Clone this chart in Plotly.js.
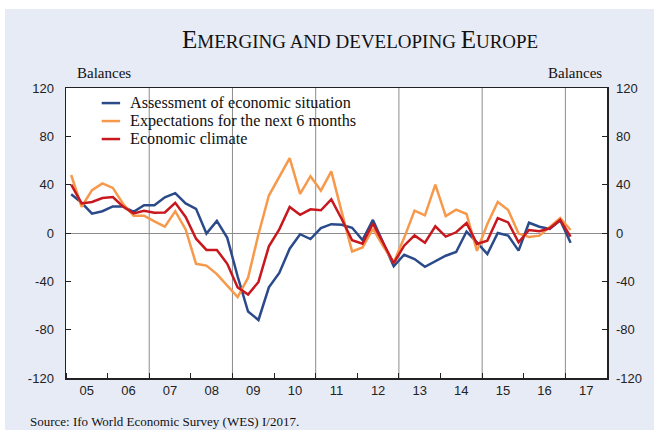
<!DOCTYPE html>
<html>
<head>
<meta charset="utf-8">
<script src="https://cdn.plot.ly/plotly-3.0.1.min.js"></script>
<style>
  html, body { margin: 0; padding: 0; background: #ffffff; }
  #chart { position: absolute; left: 5px; top: 9px; width: 649px; height: 421px; }
</style>
</head>
<body>
<div id="chart"></div>
<script>
// ---- Data (quarterly balances, 2005 Q1 – 2017 Q1) ----
const startYear = 2005;
const quartersPerYear = 4;

const assessment = [32, 25, 16, 18, 22, 22, 17.5, 23, 23, 29.5, 33, 24.5,
  20, -0.5, 10, -4, -36, -65, -72, -45, -33, -13, -1, -5,
  4, 7.3, 6.8, 4.3, -5.8, 10.8, -8.3, -27.5, -18, -21.5, -28, -23.2,
  -18.8, -15.7, 1.2, -7.7, -17.4, 0, -2.2, -14.6, 8.5, 5.2, 3.3, 10.5, -8];

const expectations = [48, 21.7, 35.5, 41, 37.3, 24, 14.2, 14.3, 9.7, 5.3, 18, 3,
  -25.5, -27, -34, -43.5, -53, -37, -1, 31, 47, 62, 32.3, 47,
  35, 51, 17.5, -15.3, -12, 3.5, -11, -24.5, -4, 18.5, 14.6, 40,
  14, 19.3, 15.7, -14.8, 7.4, 25.7, 19, -0.5, -3.3, -2.2, 5, 12.4, 2.5];

const climate = [40, 24.5, 25.7, 29, 29.8, 21.8, 16.2, 18.3, 16.7, 17, 25, 13.3,
  -4.7, -14, -14, -25.5, -45, -51, -40.5, -11, 3, 21.5, 15.1, 19.6,
  18.8, 27.8, 11.6, -6, -8.8, 7.7, -8.5, -25, -10.5, -2, -8, 5.5,
  -3, 0.6, 8.3, -9, -6.3, 12.4, 8.8, -7.7, 2.5, 1.4, 3.9, 10.8, -3];

const yearLabels = ['05', '06', '07', '08', '09', '10', '11', '12', '13', '14', '15', '16', '17'];
const gridYears = [2007, 2009, 2011, 2013, 2015, 2017];
const yTicks = [-120, -80, -40, 0, 40, 80, 120];
const yTickText = ['-120', '-80', '-40', '0', '40', '80', '120'];

const seriesNames = ['Assessment of economic situation', 'Expectations for the next 6 months', 'Economic climate'];
const seriesColors = ['#2A4A8A', '#F7994A', '#C8181E'];

// ---- Derived positions (mid-quarter on a decimal-year axis) ----
const periodX = assessment.map((_, i) =>
  startYear + Math.floor(i / quartersPerYear) + ((i % quartersPerYear) + 0.5) / quartersPerYear);
const labelX = yearLabels.map((_, k) => startYear + k + 0.5);
const yearEdges = [];
for (let k = 0; k <= yearLabels.length; k++) yearEdges.push(startYear + k);

const serif = 'Liberation Serif, Times New Roman, serif';
const sans = 'Liberation Sans, Arial, sans-serif';

const traces = [assessment, expectations, climate].map((vals, s) => ({
  type: 'scatter', mode: 'lines', x: periodX, y: vals, name: seriesNames[s],
  line: { color: seriesColors[s], width: 2.5 }, hoverinfo: 'x+y', showlegend: false
}));
traces.push({ type: 'scatter', mode: 'lines', x: [null], y: [null], yaxis: 'y2',
  showlegend: false, hoverinfo: 'skip' });

const shapes = gridYears.map(g => ({
  type: 'line', xref: 'x', yref: 'paper', x0: g, x1: g, y0: 0, y1: 1,
  line: { color: '#8c8c8c', width: 1 }, layer: 'below'
}));

// Legend (key lines + labels), placed in paper space of the plot area
const legendX0 = 0.066, legendX1 = 0.100, legendTextX = 0.1153;
const legendY = [0.948, 0.886, 0.824];
const annotations = [];
seriesNames.forEach((nm, s) => {
  shapes.push({ type: 'line', xref: 'paper', yref: 'paper',
    x0: legendX0, x1: legendX1, y0: legendY[s], y1: legendY[s],
    line: { color: seriesColors[s], width: 2.5 } });
  annotations.push({ xref: 'paper', yref: 'paper', x: legendTextX, y: legendY[s],
    xanchor: 'left', yanchor: 'middle', showarrow: false, text: nm,
    font: { family: serif, size: 16.2, color: '#111' } });
});

annotations.push(
  { xref: 'paper', yref: 'paper', x: 0.5434, y: 1.166, xanchor: 'center', yanchor: 'middle',
    showarrow: false,
    text: 'E<span style="font-size:19px">MERGING AND DEVELOPING </span>E<span style="font-size:19px">UROPE</span>',
    font: { family: serif, size: 25, color: '#111' } },
  { xref: 'paper', yref: 'paper', x: 0.0166, y: 1.05, xanchor: 'left', yanchor: 'middle',
    showarrow: false, text: 'Balances', font: { family: serif, size: 15, color: '#111' } },
  { xref: 'paper', yref: 'paper', x: 0.9945, y: 1.05, xanchor: 'right', yanchor: 'middle',
    showarrow: false, text: 'Balances', font: { family: serif, size: 15, color: '#111' } },
  { xref: 'paper', yref: 'paper', x: -0.0702, y: -0.151, xanchor: 'left', yanchor: 'middle',
    showarrow: false, text: 'Source: Ifo World Economic Survey (WES) I/2017.',
    font: { family: serif, size: 13, color: '#111' } }
);

const layout = {
  width: 649, height: 421,
  margin: { l: 61, r: 47, t: 79, b: 52 },
  paper_bgcolor: '#E7EBF6',
  plot_bgcolor: '#ffffff',
  showlegend: false,
  xaxis: {
    range: [startYear, startYear + yearLabels.length],
    tickmode: 'array', tickvals: labelX, ticktext: yearLabels, ticks: '',
    showgrid: false, zeroline: false,
    showline: true, mirror: true, linecolor: '#222', linewidth: 1.5,
    tickfont: { family: sans, size: 13, color: '#222' },
    minor: { tickmode: 'array', tickvals: yearEdges, ticks: 'inside', ticklen: 5,
      tickcolor: '#222', tickwidth: 1, showgrid: false },
    fixedrange: true
  },
  yaxis: {
    range: [-120, 120], tickmode: 'array', tickvals: yTicks, ticktext: yTickText,
    ticks: 'inside', ticklen: 5, tickcolor: '#222',
    showgrid: false, zeroline: true, zerolinecolor: '#8c8c8c', zerolinewidth: 1,
    showline: true, mirror: true, linecolor: '#222', linewidth: 1.5,
    tickfont: { family: sans, size: 13, color: '#222' },
    ticklabelstandoff: 8, fixedrange: true
  },
  yaxis2: {
    overlaying: 'y', side: 'right', range: [-120, 120],
    tickmode: 'array', tickvals: yTicks, ticktext: yTickText,
    ticks: 'inside', ticklen: 5, tickcolor: '#222',
    showgrid: false, zeroline: false, showline: false,
    tickfont: { family: sans, size: 13, color: '#222' },
    ticklabelstandoff: 8, fixedrange: true
  },
  shapes: shapes,
  annotations: annotations
};

Plotly.newPlot('chart', traces, layout, { displayModeBar: false, staticPlot: true });
</script>
</body>
</html>
